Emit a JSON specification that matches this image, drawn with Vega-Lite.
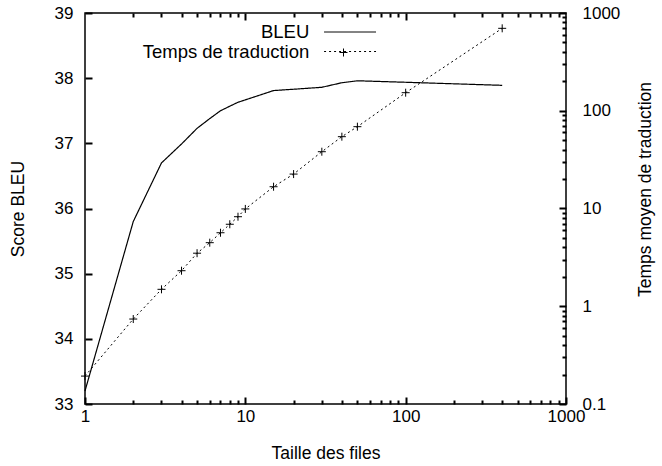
{
  "$schema": "https://vega.github.io/schema/vega-lite/v6.json",
  "width": 481,
  "height": 391,
  "autosize": {"type": "none"},
  "padding": {"left": 85, "top": 13, "right": 96, "bottom": 62},
  "background": "white",
  "config": {
    "view": {"stroke": "black", "strokeWidth": 1.5},
    "font": "Liberation Sans",
    "axis": {
      "domain": false, "grid": false,
      "labelFlush": false, "labelOverlap": false,
      "labelFont": "Liberation Sans", "labelFontSize": 17, "labelColor": "black",
      "titleFont": "Liberation Sans", "titleFontSize": 17.5, "titleFontWeight": "normal", "titleColor": "black"
    },
    "legend": {"labelFont": "Liberation Sans", "labelColor": "black", "labelLimit": 0, "zindex": 1}
  },
  "data": {"values": [
    {"taille": 1, "bleu": 33.2, "temps": 0.193},
    {"taille": 2, "bleu": 35.8, "temps": 0.74},
    {"taille": 3, "bleu": 36.7, "temps": 1.49},
    {"taille": 4, "bleu": 36.99, "temps": 2.31},
    {"taille": 5, "bleu": 37.23, "temps": 3.49},
    {"taille": 6, "bleu": 37.38, "temps": 4.47},
    {"taille": 7, "bleu": 37.5, "temps": 5.65},
    {"taille": 8, "bleu": 37.57, "temps": 6.9},
    {"taille": 9, "bleu": 37.63, "temps": 8.24},
    {"taille": 10, "bleu": 37.667, "temps": 9.9},
    {"taille": 15, "bleu": 37.81, "temps": 16.7},
    {"taille": 20, "bleu": 37.83, "temps": 22.5},
    {"taille": 30, "bleu": 37.86, "temps": 38.1},
    {"taille": 40, "bleu": 37.93, "temps": 54.3},
    {"taille": 50, "bleu": 37.96, "temps": 68.7},
    {"taille": 100, "bleu": 37.937, "temps": 153},
    {"taille": 400, "bleu": 37.89, "temps": 697}
  ]},
  "resolve": {
    "scale": {"x": "independent", "y": "independent"},
    "axis": {"x": "independent", "y": "independent"}
  },
  "layer": [
    {
      "mark": {"type": "line", "color": "black", "strokeWidth": 1.2},
      "encoding": {
        "x": {"field": "taille", "type": "quantitative",
          "scale": {"type": "log", "domain": [1, 1000]},
          "axis": {"orient": "bottom", "values": [1, 10, 100, 1000], "format": "~g", "ticks": true,
            "tickColor": "#000000", "tickWidth": 2, "tickSize": -7, "labelPadding": 11, "title": "Taille des files",
            "titleX": 240.5, "titleY": 54, "titleBaseline": "alphabetic", "titleAlign": "center"}},
        "y": {"field": "bleu", "type": "quantitative",
          "scale": {"domain": [33, 39], "zero": false, "nice": false},
          "axis": {"orient": "left", "values": [33, 34, 35, 36, 37, 38, 39], "ticks": true,
            "tickColor": "#000000", "tickWidth": 2, "tickSize": -7, "labelPadding": 19, "title": "Score BLEU",
            "titleAngle": 270, "titleX": -67, "titleY": 195.5, "titleBaseline": "middle", "titleAlign": "center"}},
        "strokeDash": {"datum": "BLEU",
          "scale": {"domain": ["BLEU", "Temps de traduction"], "range": [[1, 0], [2, 3]]},
          "legend": {"orient": "none", "legendX": 255.8, "legendY": 9.75, "title": null,
            "padding": 0, "symbolType": "M-5,0L5,0", "symbolSize": 108, "symbolStrokeColor": "black",
            "symbolStrokeWidth": 1, "labelFontSize": 18.5, "labelAlign": "right", "labelOffset": -50,
            "rowPadding": 0.5}}
      }
    },
    {
      "mark": {"type": "line", "color": "black", "strokeWidth": 1},
      "encoding": {
        "x": {"field": "taille", "type": "quantitative",
          "scale": {"type": "log", "domain": [1, 1000]}, "axis": null},
        "y": {"field": "temps", "type": "quantitative",
          "scale": {"type": "log", "domain": [0.1, 1000], "nice": false},
          "axis": {"orient": "right", "values": [0.1, 1, 10, 100, 1000], "format": "~g", "ticks": true,
            "tickColor": "#000000", "tickWidth": 2, "tickSize": -7, "labelPadding": 23, "title": "Temps moyen de traduction",
            "titleAngle": 270, "titleX": 79, "titleY": 176, "titleBaseline": "middle", "titleAlign": "center"}},
        "strokeDash": {"datum": "Temps de traduction"}
      }
    },
    {
      "mark": {"type": "point", "filled": false, "stroke": "black", "strokeWidth": 1, "size": 64, "opacity": 1},
      "encoding": {
        "x": {"field": "taille", "type": "quantitative",
          "scale": {"type": "log", "domain": [1, 1000]}, "axis": null},
        "y": {"field": "temps", "type": "quantitative",
          "scale": {"type": "log", "domain": [0.1, 1000], "nice": false}, "axis": null},
        "shape": {"datum": "Temps de traduction",
          "scale": {"domain": ["Temps de traduction"], "range": ["M-1,0L1,0M0,-1L0,1"]},
          "legend": {"orient": "none", "legendX": 254, "legendY": 35, "title": null, "padding": 0,
            "symbolStrokeColor": "black", "symbolFillColor": "transparent", "symbolSize": 64,
            "symbolStrokeWidth": 1, "labelExpr": "''", "labelFontSize": 1}}
      }
    },
    {
      "mark": {"type": "point", "opacity": 0},
      "encoding": {
        "x": {"field": "taille", "type": "quantitative",
          "scale": {"type": "log", "domain": [1, 1000]},
          "axis": {"orient": "bottom", "values": [2,3,4,5,6,7,8,9,20,30,40,50,60,70,80,90,200,300,400,500,600,700,800,900], "ticks": true,
            "tickColor": "#000000", "tickWidth": 2, "tickSize": -4, "labels": false, "title": null}},
        "y": {"field": "temps", "type": "quantitative",
          "scale": {"type": "log", "domain": [0.1, 1000], "nice": false},
          "axis": {"orient": "right", "values": [0.2,0.3,0.4,0.5,0.6,0.7,0.8,0.9,2,3,4,5,6,7,8,9,20,30,40,50,60,70,80,90,200,300,400,500,600,700,800,900], "ticks": true,
            "tickColor": "#000000", "tickWidth": 2, "tickSize": -4, "labels": false, "title": null}}
      }
    },
    {
      "mark": {"type": "point", "opacity": 0},
      "encoding": {
        "x": {"field": "taille", "type": "quantitative",
          "scale": {"type": "log", "domain": [1, 1000]},
          "axis": {"orient": "top", "values": [2,3,4,5,6,7,8,9,20,30,40,50,60,70,80,90,200,300,400,500,600,700,800,900], "ticks": true,
            "tickColor": "#000000", "tickWidth": 2, "tickSize": -4, "labels": false, "title": null}},
        "y": {"field": "temps", "type": "quantitative",
          "scale": {"type": "log", "domain": [0.1, 1000], "nice": false}, "axis": null}
      }
    },
    {
      "mark": {"type": "point", "opacity": 0},
      "encoding": {
        "x": {"field": "taille", "type": "quantitative",
          "scale": {"type": "log", "domain": [1, 1000]},
          "axis": {"orient": "top", "values": [10, 100], "ticks": true,
            "tickColor": "#000000", "tickWidth": 2, "tickSize": -7, "labels": false, "title": null}},
        "y": {"field": "temps", "type": "quantitative",
          "scale": {"type": "log", "domain": [0.1, 1000], "nice": false}, "axis": null}
      }
    }
  ]
}
